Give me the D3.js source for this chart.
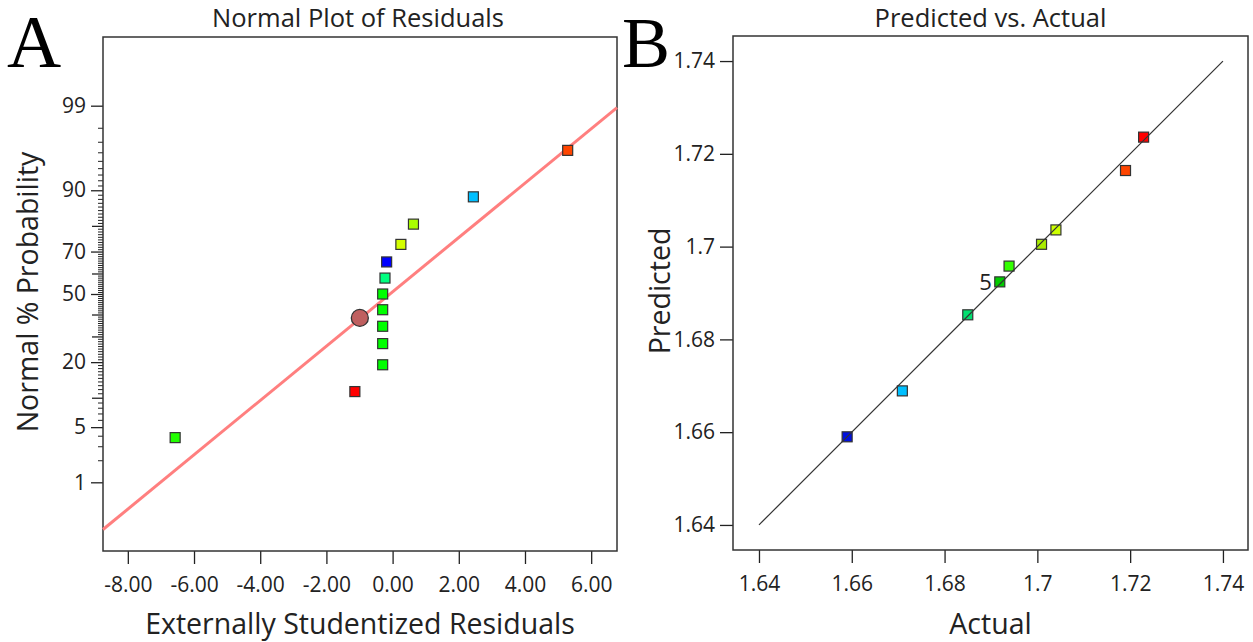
<!DOCTYPE html>
<html>
<head>
<meta charset="utf-8">
<script src="https://cdn.jsdelivr.net/npm/d3@7"></script>
<style>
	body {margin:0; background:#fff;}
	svg {display:block; font-family:"Open Sans", sans-serif;}
</style>
</head>
<body>
<script>
// Panel A - normal plot of residuals
var ResidValues = [5.29, 2.44, 0.63, 0.25, -0.18, -0.23, -0.30, -0.30, -0.30, -0.30, -0.30, -1.14, -6.57];
var ResidProbs = [96.2, 88.5, 80.6, 73.0, 65.4, 57.8, 50.0, 42.3, 34.5, 27.0, 19.1, 11.4, 3.8];
var ResidColors = ["#ff4500", "#00bfff", "#aaff00", "#d4ff00", "#0000ff", "#00ff80", "#00ff00", "#00ff00", "#00ff00", "#00ff00", "#00ff00", "#ff0000", "#22ff00"];
var HighlightPoint = {resid: -0.99, prob: 38.4};
var FitMean = -0.08, FitSd = 2.98;
var ResidTicks = [-8, -6, -4, -2, 0, 2, 4, 6];
var ProbLabelTicks = [1, 5, 20, 50, 70, 90, 99];
var ProbTenTicks = [10, 30, 40, 60, 80];

// Panel B - predicted vs actual
var ActualValues = [1.659, 1.6709, 1.6850, 1.6919, 1.6939, 1.7009, 1.7040, 1.7190, 1.7229];
var PredictedValues = [1.659, 1.6689, 1.6853, 1.6924, 1.6958, 1.7005, 1.7036, 1.7164, 1.7236];
var PredColors = ["#0010e0", "#00bfff", "#00e070", "#00cc00", "#33ff00", "#aaee00", "#ccff00", "#ff4500", "#ff0000"];
var PointLabels = ["", "", "", "5", "", "", "", "", ""];
var PredTicks = [1.64, 1.66, 1.68, 1.70, 1.72, 1.74];

var Width = 1253, Height = 642;
var TickFont = 21;

// inverse normal CDF (Acklam), used for the probability axis
function Probit(p) {
	var a = [-39.69683028665376, 220.9460984245205, -275.9285104469687, 138.3577518672690, -30.66479806614716, 2.506628277459239];
	var b = [-54.47609879822406, 161.5858367580409, -155.6989798598866, 66.80131188771972, -13.28068155288572];
	var c = [-0.007784894002430293, -0.3223964580411365, -2.400758277161838, -2.549732539343734, 4.374664141464968, 2.938163982698783];
	var d = [0.007784695709041462, 0.3224671290700398, 2.445134137142996, 3.754408661907416];
	var q, r;
	if (p < 0.02425) {
		q = Math.sqrt(-2*Math.log(p));
		return (((((c[0]*q+c[1])*q+c[2])*q+c[3])*q+c[4])*q+c[5]) / ((((d[0]*q+d[1])*q+d[2])*q+d[3])*q+1);
	}
	if (p > 1-0.02425) {
		q = Math.sqrt(-2*Math.log(1-p));
		return -(((((c[0]*q+c[1])*q+c[2])*q+c[3])*q+c[4])*q+c[5]) / ((((d[0]*q+d[1])*q+d[2])*q+d[3])*q+1);
	}
	q = p-0.5; r = q*q;
	return (((((a[0]*r+a[1])*r+a[2])*r+a[3])*r+a[4])*r+a[5])*q / (((((b[0]*r+b[1])*r+b[2])*r+b[3])*r+b[4])*r+1);
}

var svg = d3.select("body").append("svg").attr("width", Width).attr("height", Height);

function StyleAxis(g, fontSize) {
	g.selectAll("path").attr("stroke", "#222").attr("stroke-width", 1.5);
	g.selectAll("line").attr("stroke", "#222").attr("stroke-width", 1.3);
	g.selectAll("text").attr("font-family", "'Open Sans', sans-serif").attr("font-size", fontSize).attr("fill", "#222");
}

function DrawFrame(x0, y0, x1, y1) {
	svg.append("rect").attr("x", x0).attr("y", y0).attr("width", x1-x0).attr("height", y1-y0)
		.attr("fill", "none").attr("stroke", "#333").attr("stroke-width", 1.5);
}

//---------- Panel A
var A = {x0:103, x1:617, y0:37, y1:551};
var xA = d3.scaleLinear().domain([-8.75, 6.78]).range([A.x0, A.x1]);
var zA = d3.scaleLinear().domain([-3.175, 3.175]).range([A.y1, A.y0]);
function yA(p) { return zA(Probit(p/100)); }

var MinorProbs = d3.range(1, 100).filter(function(p) {return ProbLabelTicks.indexOf(p) < 0 && ProbTenTicks.indexOf(p) < 0;});

svg.append("g").attr("transform", "translate(" + A.x0 + ",0)")
	.call(d3.axisLeft(zA).tickValues(MinorProbs.map(function(p) {return Probit(p/100);})).tickSize(5).tickFormat(""))
	.call(function(g) {StyleAxis(g, TickFont); g.select("path").remove(); g.selectAll("line").attr("stroke-width", 1);});
svg.append("g").attr("transform", "translate(" + A.x0 + ",0)")
	.call(d3.axisLeft(zA).tickValues(ProbTenTicks.map(function(p) {return Probit(p/100);})).tickSize(11).tickFormat(""))
	.call(function(g) {StyleAxis(g, TickFont); g.select("path").remove();});
svg.append("g").attr("transform", "translate(" + A.x0 + ",0)")
	.call(d3.axisLeft(zA).tickValues(ProbLabelTicks.map(function(p) {return Probit(p/100);})).tickSize(12).tickPadding(5)
		.tickFormat(function(z, i) {return ProbLabelTicks[i];}))
	.call(function(g) {StyleAxis(g, TickFont); g.select("path").remove();});

svg.append("g").attr("transform", "translate(0," + A.y1 + ")")
	.call(d3.axisBottom(xA).tickValues(ResidTicks).tickSize(13).tickPadding(13).tickFormat(function(d) {return d.toFixed(2);}))
	.call(function(g) {StyleAxis(g, TickFont); g.select("path").remove();});

DrawFrame(A.x0, A.y0, A.x1, A.y1);

var PlotA = svg.append("g");
PlotA.append("line")
	.attr("x1", xA(xA.domain()[0])).attr("y1", zA((xA.domain()[0]-FitMean)/FitSd))
	.attr("x2", xA(xA.domain()[1])).attr("y2", zA((xA.domain()[1]-FitMean)/FitSd))
	.attr("stroke", "#ff7f7f").attr("stroke-width", 3);

PlotA.selectAll("rect.pt").data(ResidValues).enter().append("rect").attr("class", "pt")
	.attr("x", function(d) {return xA(d)-5;})
	.attr("y", function(d, i) {return yA(ResidProbs[i])-5;})
	.attr("width", 10).attr("height", 10)
	.attr("fill", function(d, i) {return ResidColors[i];})
	.attr("stroke", "#333").attr("stroke-width", 1.2);

PlotA.append("circle").attr("cx", xA(HighlightPoint.resid)).attr("cy", yA(HighlightPoint.prob)).attr("r", 8.5)
	.attr("fill", "#bf5f5f").attr("stroke", "#333").attr("stroke-width", 1.3);

svg.append("text").attr("x", (A.x0+A.x1)/2 - 2).attr("y", 27).attr("text-anchor", "middle")
	.attr("font-size", 25.5).attr("fill", "#222").text("Normal Plot of Residuals");
svg.append("text").attr("x", (A.x0+A.x1)/2).attr("y", 634).attr("text-anchor", "middle")
	.attr("font-size", 28.5).attr("fill", "#222").text("Externally Studentized Residuals");
svg.append("text").attr("transform", "translate(38,292) rotate(-90)").attr("text-anchor", "middle")
	.attr("font-size", 28.5).attr("fill", "#222").text("Normal % Probability");

//---------- Panel B
var B = {x0:733, x1:1248, y0:36, y1:550};
var xB = d3.scaleLinear().domain([1.6344, 1.7454]).range([B.x0, B.x1]);
var yB = d3.scaleLinear().domain([1.6346, 1.7454]).range([B.y1, B.y0]);

svg.append("g").attr("transform", "translate(" + B.x0 + ",0)")
	.call(d3.axisLeft(yB).tickValues(PredTicks).tickSize(13).tickPadding(5).tickFormat(function(d) {return String(+d.toFixed(2));}))
	.call(function(g) {StyleAxis(g, TickFont); g.select("path").remove();});
svg.append("g").attr("transform", "translate(0," + B.y1 + ")")
	.call(d3.axisBottom(xB).tickValues(PredTicks).tickSize(13).tickPadding(13).tickFormat(function(d) {return String(+d.toFixed(2));}))
	.call(function(g) {StyleAxis(g, TickFont); g.select("path").remove();});

DrawFrame(B.x0, B.y0, B.x1, B.y1);

var PlotB = svg.append("g");
PlotB.selectAll("rect.pt").data(ActualValues).enter().append("rect").attr("class", "pt")
	.attr("x", function(d) {return xB(d)-5;})
	.attr("y", function(d, i) {return yB(PredictedValues[i])-5;})
	.attr("width", 10).attr("height", 10)
	.attr("fill", function(d, i) {return PredColors[i];})
	.attr("stroke", "#333").attr("stroke-width", 1.2);

// the 1:1 line sits on top of the squares
PlotB.append("line")
	.attr("x1", xB(PredTicks[0])).attr("y1", yB(PredTicks[0]))
	.attr("x2", xB(PredTicks[PredTicks.length-1])).attr("y2", yB(PredTicks[PredTicks.length-1]))
	.attr("stroke", "#333").attr("stroke-width", 1.2);

PlotB.selectAll("text.lbl").data(ActualValues).enter().append("text").attr("class", "lbl")
	.attr("x", function(d) {return xB(d)-8;})
	.attr("y", function(d, i) {return yB(PredictedValues[i]);})
	.attr("dy", "0.36em").attr("text-anchor", "end")
	.attr("font-size", 22).attr("fill", "#222")
	.text(function(d, i) {return PointLabels[i];});

svg.append("text").attr("x", (B.x0+B.x1)/2).attr("y", 27).attr("text-anchor", "middle")
	.attr("font-size", 25.5).attr("fill", "#222").text("Predicted vs. Actual");
svg.append("text").attr("x", (B.x0+B.x1)/2).attr("y", 634).attr("text-anchor", "middle")
	.attr("font-size", 28.5).attr("fill", "#222").text("Actual");
svg.append("text").attr("transform", "translate(670,291) rotate(-90)").attr("text-anchor", "middle")
	.attr("font-size", 28.5).attr("fill", "#222").text("Predicted");

//---------- panel letters
svg.append("text").attr("x", 7).attr("y", 67).attr("font-family", "'Liberation Serif', serif")
	.attr("font-size", 75).attr("fill", "#000").text("A");
svg.append("text").attr("x", 622).attr("y", 67).attr("font-family", "'Liberation Serif', serif")
	.attr("font-size", 72).attr("fill", "#000").text("B");
</script>
</body>
</html>
